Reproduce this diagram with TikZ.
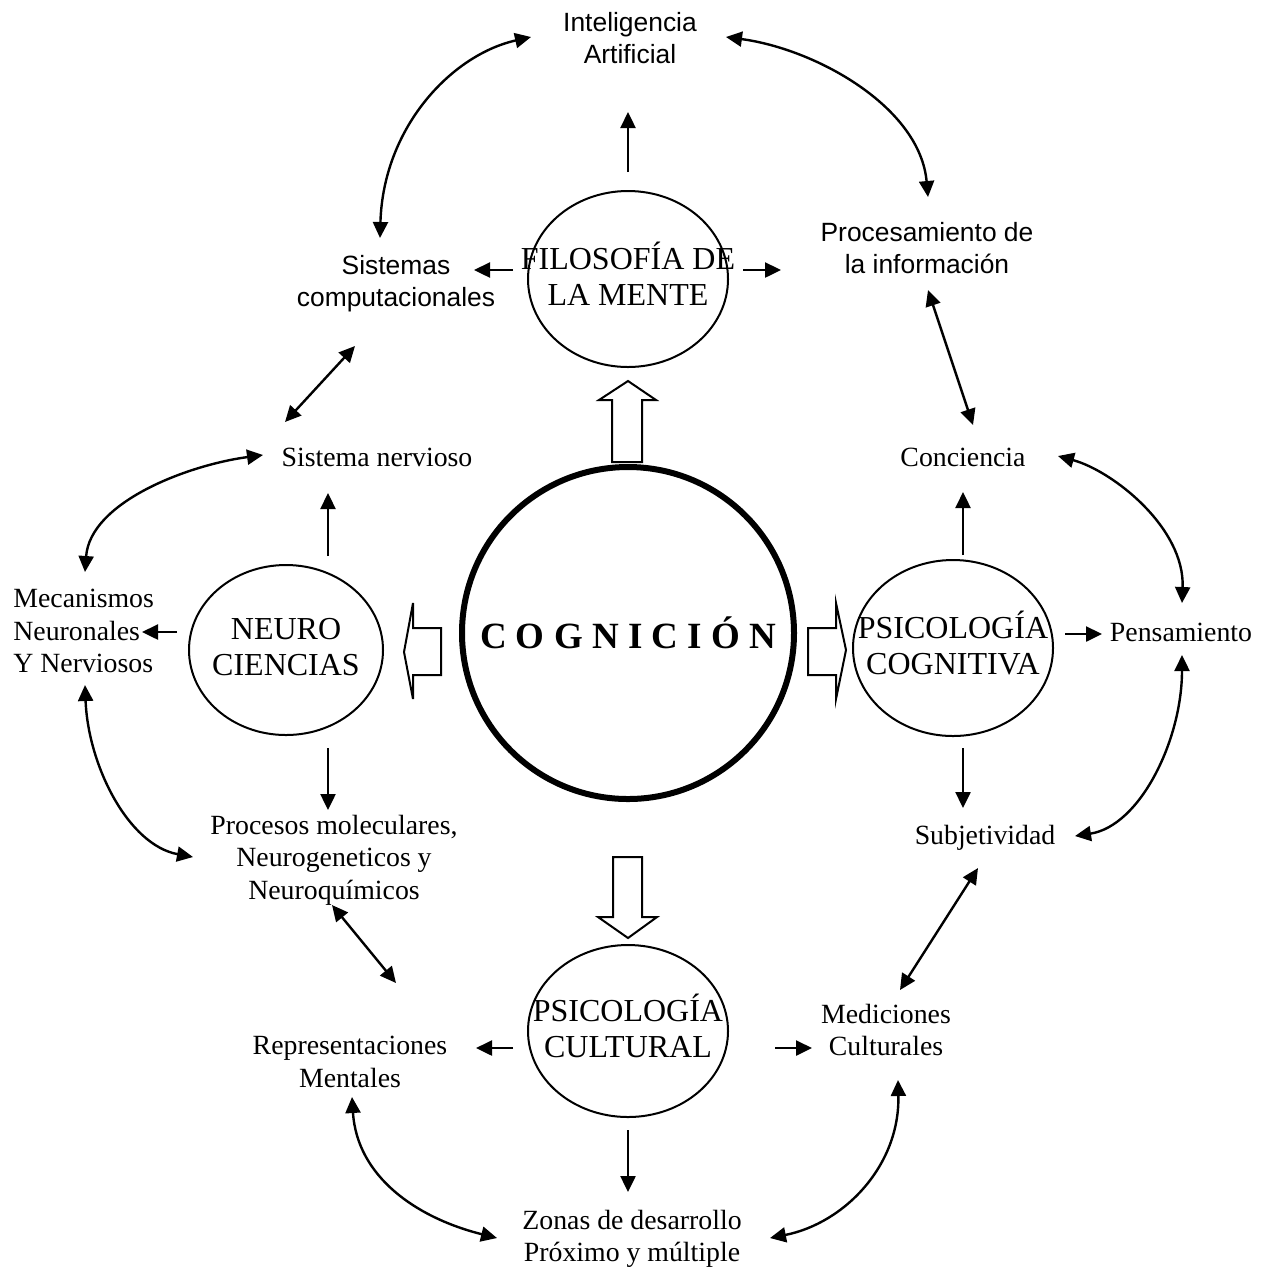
\documentclass[tikz,border=0pt]{standalone}
\usepackage{fontspec}
\setmainfont{Liberation Serif}
\newfontfamily\arialf{Liberation Sans}
\usetikzlibrary{arrows.meta,shapes.geometric}
\newcommand\fld[3]{\makebox[0pt]{\raisebox{#1}{\begin{tabular}{@{}c@{}}#2\\#3\end{tabular}}}}
\begin{document}
\begin{tikzpicture}[x=0.5pt,y=-0.5pt,
  txt/.style={font=\fontsize{13.9}{16.25}\selectfont, align=center, inner sep=0pt},
  stxt/.style={font=\arialf\fontsize{13.2}{16}\selectfont, align=center, inner sep=0pt},
  field/.style={ellipse, draw, line width=1pt, inner sep=0pt, minimum width=100pt, minimum height=88pt, font=\fontsize{16}{18}\selectfont},
  arr/.style={line width=1.2pt, -{Triangle[length=8pt,width=7.5pt]}},
  dbl/.style={line width=1.2pt, {Triangle[length=8pt,width=7.5pt]}-{Triangle[length=8pt,width=7.5pt]}},
  hollow/.style={draw, line width=1pt, fill=white, line join=miter}]
\useasboundingbox (0,0) rectangle (1272,1271);

% central circle
\node[circle, draw, line width=3pt, minimum size=166pt, inner sep=0pt,
      font=\bfseries\fontsize{18.5}{20}\selectfont] (cog) at (628,633) {C O G N I C I Ó N};

% fields
\node[field] (filo) at (628,279) {\fld{3.5pt}{FILOSOFÍA DE}{LA MENTE}};
\node[field] (cogn) at (953,648) {\fld{8pt}{PSICOLOGÍA}{COGNITIVA}};
\node[field, minimum width=97pt, minimum height=85pt] (neuro) at (286,650) {\fld{10pt}{NEURO}{CIENCIAS}};
\node[field, minimum height=86pt] (cult) at (628,1031) {\fld{6pt}{PSICOLOGÍA}{CULTURAL}};

% hollow block arrows
\draw[hollow] (612,462) -- (612,400) -- (599,400) -- (628,381) -- (656,400) -- (642,400) -- (642,462) -- cycle;
\draw[hollow] (441,628) -- (413,628) -- (413,603) -- (404,652) -- (413,699) -- (413,675) -- (441,675) -- cycle;
\draw[hollow] (808,628) -- (836,628) -- (836,603) -- (846,650) -- (836,699) -- (836,675) -- (808,675) -- cycle;
\draw[hollow] (613,857) -- (642,857) -- (642,917) -- (657,917) -- (628,938) -- (598,917) -- (613,917) -- cycle;

% text nodes
\node[stxt] (ia) at (630,38) {Inteligencia\\Artificial};
\node[stxt] (sis) at (396,284) {Sistemas\\computacionales};
\node[stxt] (proc) at (927,248) {Procesamiento de\\la información};
\node[txt] (sn) at (377,457) {Sistema nervioso};
\node[txt] (conc) at (963,457) {Conciencia};
\node[txt, align=left, anchor=west] (mec) at (13,631) {Mecanismos\\Neuronales\\Y Nerviosos};
\node[txt] (pens) at (1181,632) {Pensamiento};
\node[txt] (pmol) at (334,860) {Procesos moleculares,\\Neurogeneticos y\\Neuroquímicos};
\node[txt] (subj) at (985,838) {Subjetividad};
\node[txt] (rep) at (350,1062) {Representaciones\\Mentales};
\node[txt] (med) at (886,1030) {Mediciones\\Culturales};
\node[txt] (zon) at (632,1239) {Zonas de desarrollo\\Próximo y múltiple};

% connector end points
\coordinate (filoU) at (628,172); \coordinate (iaB) at (628,112);
\coordinate (filoL) at (513,270); \coordinate (sisR) at (474,270);
\coordinate (filoR) at (743,270); \coordinate (procL) at (781,270);
\coordinate (cognU) at (963,555); \coordinate (concB) at (963,492);
\coordinate (cognR) at (1065,634); \coordinate (pensL) at (1102,634);
\coordinate (cognD) at (963,748); \coordinate (subjT) at (963,808);
\coordinate (neuroU) at (328,556); \coordinate (snB) at (328,493);
\coordinate (neuroL) at (177,632); \coordinate (mecR) at (142,632);
\coordinate (neuroD) at (328,748); \coordinate (pmolT) at (328,810);
\coordinate (cultL) at (513,1048); \coordinate (repR) at (476,1048);
\coordinate (cultR) at (775,1048); \coordinate (medL) at (812,1048);
\coordinate (cultD) at (628,1130); \coordinate (zonT) at (628,1192);

\coordinate (iaL) at (531,37); \coordinate (sisT) at (380,238);
\coordinate (iaR) at (726,37); \coordinate (procT) at (928,197);
\coordinate (procB) at (928,290); \coordinate (concT) at (973,425);
\coordinate (sisB) at (355,346); \coordinate (snL) at (285,422);
\coordinate (concR) at (1058,456); \coordinate (pensT) at (1182,603);
\coordinate (pensB) at (1182,655); \coordinate (subjR) at (1075,836);
\coordinate (snW) at (263,455); \coordinate (mecT) at (85,572);
\coordinate (mecB) at (85,685); \coordinate (pmolL) at (193,857);
\coordinate (pmolB) at (332,905); \coordinate (repT) at (396,983);
\coordinate (subjB) at (978,868); \coordinate (medT) at (900,990);
\coordinate (repB) at (352,1097); \coordinate (zonL) at (497,1238);
\coordinate (zonR) at (770,1238); \coordinate (medB) at (898,1080);

% single arrows
\draw[arr] (filoU) -- (iaB);
\draw[arr] (filoL) -- (sisR);
\draw[arr] (filoR) -- (procL);
\draw[arr] (cognU) -- (concB);
\draw[arr] (cognR) -- (pensL);
\draw[arr] (cognD) -- (subjT);
\draw[arr] (neuroU) -- (snB);
\draw[arr] (neuroL) -- (mecR);
\draw[arr] (neuroD) -- (pmolT);
\draw[arr] (cultL) -- (repR);
\draw[arr] (cultR) -- (medL);
\draw[arr] (cultD) -- (zonT);

% double arrows
\draw[dbl] (iaL) .. controls +(-80,18) and +(3,-110) .. (sisT);
\draw[dbl] (iaR) .. controls +(90,12) and +(-8,-90) .. (procT);
\draw[dbl] (procB) -- (concT);
\draw[dbl] (sisB) -- (snL);
\draw[dbl] (concR) .. controls +(55,15) and +(3,-75) .. (pensT);
\draw[dbl] (pensB) .. controls +(0,85) and +(65,-10) .. (subjR);
\draw[dbl] (snW) .. controls +(-75,10) and +(5,-70) .. (mecT);
\draw[dbl] (mecB) .. controls +(3,80) and +(-65,-12) .. (pmolL);
\draw[dbl] (pmolB) -- (repT);
\draw[dbl] (medT) -- (subjB);
\draw[dbl] (repB) .. controls +(5,80) and +(-80,-20) .. (zonL);
\draw[dbl] (zonR) .. controls +(75,-15) and +(2,85) .. (medB);
\end{tikzpicture}
\end{document}
